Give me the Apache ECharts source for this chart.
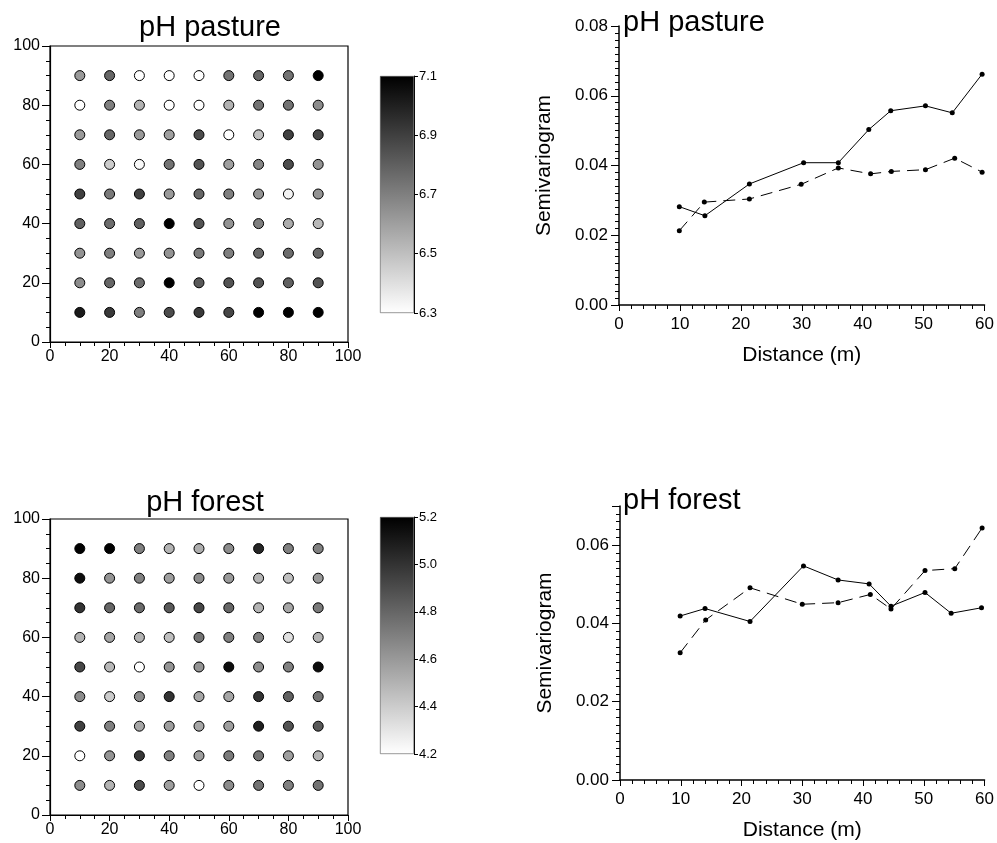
<!DOCTYPE html>
<html>
<head>
<meta charset="utf-8">
<script src="https://cdn.jsdelivr.net/npm/echarts@6/dist/echarts.min.js"></script>
<style>html,body{margin:0;padding:0;background:#fff}#c{width:997px;height:843px}</style>
</head>
<body>
<div id="c"></div>
<script>
// ---------- DATA ----------
const gridCoords = [10, 20, 30, 40, 50, 60, 70, 80, 90];
// rows listed from top (y=90) to bottom (y=10)
const pastureRows = [
  [6.62, 6.78, 6.30, 6.30, 6.30, 6.74, 6.78, 6.74, 7.10],
  [6.30, 6.70, 6.54, 6.30, 6.30, 6.54, 6.74, 6.74, 6.66],
  [6.62, 6.78, 6.62, 6.60, 6.86, 6.30, 6.50, 6.90, 6.88],
  [6.70, 6.46, 6.32, 6.74, 6.84, 6.60, 6.68, 6.86, 6.64],
  [6.90, 6.72, 6.90, 6.62, 6.78, 6.70, 6.64, 6.34, 6.64],
  [6.80, 6.76, 6.80, 7.10, 6.84, 6.64, 6.70, 6.56, 6.52],
  [6.64, 6.70, 6.62, 6.64, 6.72, 6.70, 6.78, 6.76, 6.78],
  [6.66, 6.78, 6.76, 7.10, 6.82, 6.84, 6.84, 6.80, 6.84],
  [7.02, 6.92, 6.70, 6.86, 6.92, 6.88, 7.10, 7.10, 7.10]
];
const forestRows = [
  [5.20, 5.20, 4.70, 4.50, 4.52, 4.65, 5.05, 4.70, 4.70],
  [5.15, 4.62, 4.70, 4.58, 4.65, 4.60, 4.50, 4.45, 4.60],
  [5.00, 4.80, 4.78, 4.85, 4.92, 4.80, 4.50, 4.55, 4.72],
  [4.50, 4.55, 4.50, 4.45, 4.75, 4.70, 4.70, 4.32, 4.50],
  [4.92, 4.48, 4.20, 4.62, 4.62, 5.15, 4.65, 4.70, 5.15],
  [4.65, 4.40, 4.65, 5.00, 4.55, 4.55, 5.00, 4.82, 4.75],
  [4.95, 4.70, 4.55, 4.58, 4.55, 4.58, 5.08, 4.88, 4.85],
  [4.20, 4.62, 4.98, 4.70, 4.58, 4.72, 4.75, 4.58, 4.50],
  [4.65, 4.50, 4.90, 4.58, 4.20, 4.65, 4.75, 4.70, 4.75]
];
const pastureRange = [6.3, 7.1];
const forestRange = [4.2, 5.2];
const colorbarStep = 0.2;

const pastureSolidDist = [9.9, 14.1, 21.4, 30.3, 36.0, 41.0, 44.6, 50.3, 54.7, 59.6];
const pastureSolidGamma = [0.0282, 0.0256, 0.0347, 0.0408, 0.0408, 0.0503, 0.0557, 0.0571, 0.0551, 0.0662];
const pastureDashDist = [9.9, 14.0, 21.4, 29.9, 36.0, 41.3, 44.7, 50.3, 55.1, 59.6];
const pastureDashGamma = [0.0213, 0.0295, 0.0304, 0.0346, 0.0393, 0.0376, 0.0383, 0.0388, 0.0421, 0.0381];

const forestSolidDist = [9.9, 14.0, 21.4, 30.2, 35.9, 41.0, 44.6, 50.2, 54.5, 59.5];
const forestSolidGamma = [0.0419, 0.0438, 0.0405, 0.0547, 0.0511, 0.0501, 0.0444, 0.0479, 0.0426, 0.0440];
const forestDashDist = [9.9, 14.1, 21.4, 30.0, 35.9, 41.2, 44.6, 50.2, 55.1, 59.6];
const forestDashGamma = [0.0325, 0.0409, 0.0491, 0.0449, 0.0453, 0.0474, 0.0437, 0.0535, 0.0540, 0.0644];

// ---------- BUILD ----------
const FONT = 'Liberation Sans, Arial, Helvetica, sans-serif';
function mapData(rows) {
  const out = [];
  rows.forEach((row, r) => {
    const y = gridCoords[gridCoords.length - 1 - r];
    row.forEach((v, c) => out.push([gridCoords[c], y, v]));
  });
  return out;
}
function pairs(xs, ys) { return xs.map((x, i) => [x, ys[i]]); }

const axisBlack = { lineStyle: { color: '#000', width: 1.2 } };
function mapXAxis(gi) {
  return {
    gridIndex: gi, type: 'value', min: 0, max: 100, interval: 20,
    axisLine: axisBlack, axisTick: { inside: false, length: 6, lineStyle: { color: '#000' } },
    minorTick: { show: true, splitNumber: 4, length: 4, lineStyle: { color: '#000' } },
    splitLine: { show: false },
    axisLabel: { color: '#000', fontSize: 16, fontFamily: FONT, margin: 7 }
  };
}
function mapYAxis(gi) {
  return {
    gridIndex: gi, type: 'value', min: 0, max: 100, interval: 20,
    axisLine: axisBlack, axisTick: { inside: false, length: 8, lineStyle: { color: '#000' } },
    minorTick: { show: true, splitNumber: 4, length: 4, lineStyle: { color: '#000' } },
    splitLine: { show: false },
    axisLabel: { color: '#000', fontSize: 16, fontFamily: FONT, margin: 10, verticalAlign: 'middle', padding: [0, 0, 12, 0] }
  };
}
function cbXAxis(gi) { return { gridIndex: gi, type: 'category', data: ['c'], show: false }; }
function cbYAxis(gi, range) {
  return {
    gridIndex: gi, type: 'value', min: range[0], max: range[1], interval: colorbarStep, position: 'right',
    axisLine: { show: true, lineStyle: { color: '#000', width: 1 } },
    axisTick: { show: true, length: 4, lineStyle: { color: '#000' } },
    splitLine: { show: false },
    axisLabel: { color: '#000', fontSize: 13, fontFamily: FONT, margin: 5, verticalAlign: 'middle', padding: [0, 0, 9, 0],
      formatter: v => v.toFixed(1) }
  };
}
function svXAxis(gi) {
  return {
    gridIndex: gi, type: 'value', min: 0, max: 60, interval: 10,
    name: 'Distance (m)', nameLocation: 'middle', nameGap: 40,
    nameTextStyle: { color: '#000', fontSize: 21, fontFamily: FONT },
    axisLine: { lineStyle: { color: '#000', width: 1.5 } },
    axisTick: { length: 6, lineStyle: { color: '#000' } },
    minorTick: { show: true, splitNumber: 5, length: 4, lineStyle: { color: '#000' } },
    splitLine: { show: false },
    axisLabel: { color: '#000', fontSize: 17, fontFamily: FONT, margin: 11 }
  };
}
function svYAxis(gi, max) {
  return {
    gridIndex: gi, type: 'value', min: 0, max: max, interval: 0.02,
    name: 'Semivariogram', nameLocation: 'middle', nameGap: 64, nameRotate: 90,
    nameTextStyle: { color: '#000', fontSize: 21, fontFamily: FONT },
    axisLine: { lineStyle: { color: '#000', width: 1.5 } },
    axisTick: { length: 8, lineStyle: { color: '#000' } },
    minorTick: { show: true, splitNumber: 10, length: 4, lineStyle: { color: '#000' } },
    splitLine: { show: false },
    axisLabel: { color: '#000', fontSize: 17, fontFamily: FONT, margin: 11, verticalAlign: 'middle', padding: [0, 0, 12, 0],
      showMaxLabel: max === 0.08, formatter: v => v.toFixed(2) }
  };
}
function scatterSeries(xi, yi, rows) {
  return {
    type: 'scatter', xAxisIndex: xi, yAxisIndex: yi, data: mapData(rows),
    symbolSize: 10, itemStyle: { borderColor: '#000', borderWidth: 1, opacity: 1 }
  };
}
function cbSeries(xi, yi, range) {
  return [
    { type: 'bar', xAxisIndex: xi, yAxisIndex: yi, stack: 'cb' + xi, data: [range[0]], barWidth: '100%',
      itemStyle: { color: 'rgba(0,0,0,0)' }, silent: true },
    { type: 'bar', xAxisIndex: xi, yAxisIndex: yi, stack: 'cb' + xi, data: [+(range[1] - range[0]).toFixed(3)], barWidth: '100%',
      itemStyle: { borderColor: '#555', borderWidth: 0.6,
        color: { type: 'linear', x: 0, y: 0, x2: 0, y2: 1, colorStops: [{ offset: 0, color: '#000' }, { offset: 1, color: '#fff' }] } },
      silent: true }
  ];
}
function lineSeries(xi, yi, xs, ys, dashed) {
  return {
    type: 'line', xAxisIndex: xi, yAxisIndex: yi, data: pairs(xs, ys),
    symbol: 'circle', symbolSize: 5, showSymbol: true,
    itemStyle: { color: '#000' },
    lineStyle: { color: '#000', width: 1, type: dashed ? [12, 7] : 'solid' }
  };
}

const titleStyle = { fontSize: 29, fontWeight: 'normal', color: '#000', fontFamily: FONT };
const option = {
  backgroundColor: '#fff',
  animation: false,
  textStyle: { fontFamily: FONT },
  title: [
    { text: 'pH pasture', left: 205, top: 8, textAlign: 'center', textStyle: titleStyle },
    { text: 'pH forest', left: 200, top: 483, textAlign: 'center', textStyle: titleStyle },
    { text: 'pH pasture', left: 618, top: 3, textStyle: titleStyle },
    { text: 'pH forest', left: 618, top: 481, textStyle: titleStyle }
  ],
  grid: [
    { left: 50, top: 46, width: 298, height: 296, show: true, borderColor: '#000', borderWidth: 1.2, backgroundColor: '#fff' },
    { left: 380, top: 76, width: 34, height: 237 },
    { left: 619, top: 26, width: 368, height: 279 },
    { left: 50, top: 519, width: 298, height: 296, show: true, borderColor: '#000', borderWidth: 1.2, backgroundColor: '#fff' },
    { left: 380, top: 517, width: 34, height: 237 },
    { left: 620, top: 506, width: 367, height: 274 }
  ],
  xAxis: [mapXAxis(0), cbXAxis(1), svXAxis(2), mapXAxis(3), cbXAxis(4), svXAxis(5)],
  yAxis: [mapYAxis(0), cbYAxis(1, pastureRange), svYAxis(2, 0.08), mapYAxis(3), cbYAxis(4, forestRange), svYAxis(5, 0.07)],
  visualMap: [
    { show: false, type: 'continuous', seriesIndex: 0, dimension: 2, min: pastureRange[0], max: pastureRange[1], inRange: { color: ['#ffffff', '#000000'] } },
    { show: false, type: 'continuous', seriesIndex: 5, dimension: 2, min: forestRange[0], max: forestRange[1], inRange: { color: ['#ffffff', '#000000'] } }
  ],
  series: [
    scatterSeries(0, 0, pastureRows),          // 0
    ...cbSeries(1, 1, pastureRange),           // 1,2
    lineSeries(2, 2, pastureSolidDist, pastureSolidGamma, false), // 3
    lineSeries(2, 2, pastureDashDist, pastureDashGamma, true),    // 4
    scatterSeries(3, 3, forestRows),           // 5
    ...cbSeries(4, 4, forestRange),            // 6,7
    lineSeries(5, 5, forestSolidDist, forestSolidGamma, false),   // 8
    lineSeries(5, 5, forestDashDist, forestDashGamma, true)       // 9
  ]
};
const chart = echarts.init(document.getElementById('c'), null, { renderer: 'canvas' });
chart.setOption(option);
</script>
</body>
</html>
